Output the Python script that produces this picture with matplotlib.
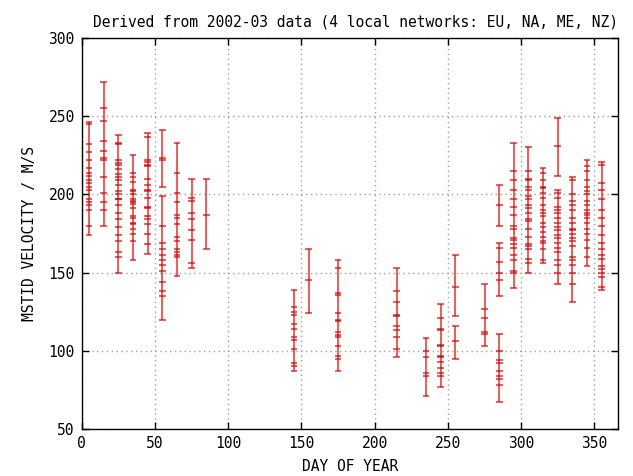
import matplotlib
matplotlib.use("Agg")
import matplotlib.pyplot as plt

plt.rcParams["font.family"] = ["DejaVu Sans Mono"]
plt.rcParams["font.size"] = 10.5

# ── data: 10-day bins, each bin = list of connected bar segments, each with tick values ──
days = [5, 15, 25, 35, 45, 55, 65, 75, 85,
        145, 155, 175, 215, 235, 245, 255,
        275, 285, 295, 305, 315, 325, 335, 345, 355]

ticks = [
    [[246, 245, 232, 227, 222, 217, 214, 212, 209, 207, 205, 203, 197, 195, 193, 190, 180, 174]],
    [[272, 255, 247, 234, 228, 223, 222, 211, 201, 195, 190, 180]],
    [[238, 233, 232, 222, 220, 219, 216, 213, 211, 209, 206, 202, 200, 197, 197, 193, 188, 184,
      179, 174, 170, 163, 160, 150]],
    [[225, 214, 211, 208, 203, 202, 200, 197, 196, 195, 194, 191, 186, 185, 182, 181, 178, 175,
      170, 158]],
    [[239, 237, 222, 221, 219, 218, 210, 206, 203, 202, 198, 192, 191, 186, 184, 181, 175, 168, 162]],
    [[241, 223, 222, 205],
     [199, 180, 169, 165, 161, 158, 155, 151, 144, 138, 135, 120]],
    [[233, 214, 201, 195, 187, 185, 181, 173, 170, 165, 163, 161, 160, 148]],
    [[210, 198, 196, 188, 184, 177, 171, 156, 153]],
    [[210, 187, 165]],
    [[139, 128, 125, 123, 117, 114, 109, 107, 101, 92, 90, 87]],
    [[165, 145, 124]],
    [[158, 153, 137, 136, 124, 120, 119, 112, 110, 109, 103, 97, 95, 87]],
    [[153, 138, 131, 123, 122, 116, 113, 109, 101, 96]],
    [[108, 100, 96, 86, 84, 71]],
    [[130, 121, 114, 113, 104, 103, 97, 96, 93, 89, 86, 84, 77]],
    [[161, 141, 122], [116, 106, 95]],
    [[143, 127, 121, 112, 111, 103]],
    [[206, 193, 180],
     [169, 166, 157, 150, 145, 135],
     [111, 100, 94, 92, 87, 84, 82, 78, 67]],
    [[233, 215, 209, 203, 197, 192, 187, 180, 178, 172, 171, 168, 166, 161, 158, 151, 150, 140]],
    [[230, 215, 210, 209, 205, 203, 199, 197, 193, 191, 188, 184, 183, 178, 173, 168, 167, 165,
      159, 156, 150]],
    [[217, 214, 209, 205, 204, 201, 198, 193, 190, 188, 186, 182, 179, 176, 173, 170, 169, 165,
      158, 156]],
    [[249, 231, 212],
     [203, 201, 198, 192, 190, 188, 185, 182, 179, 177, 174, 172, 169, 166, 163, 158, 155, 150, 143]],
    [[211, 209, 200, 196, 193, 190, 185, 182, 178, 177, 175, 172, 170, 167, 160, 158, 155, 150,
      143, 131]],
    [[222, 218, 215, 209, 205, 202, 200, 196, 193, 190, 188, 187, 185, 182, 178, 175, 171, 166,
      160, 154]],
    [[221, 219, 207, 203, 197, 190, 185, 180, 174, 169, 165, 161, 159, 154, 152, 150, 147, 141, 139]],
]

title = "Derived from 2002-03 data (4 local networks: EU, NA, ME, NZ)"
xlabel = "DAY OF YEAR"
ylabel = "MSTID VELOCITY / M/S"

# ── plot ──────────────────────────────────────────────────────────
fig = plt.figure(figsize=(6.33, 4.76), dpi=100)
ax = fig.add_axes([0.129, 0.0987, 0.847, 0.8215])

BAR_COLOR = "#cc0000"
half_w = 2.3  # tick half width in days

for day, segs in zip(days, ticks):
    for seg in segs:
        ax.vlines(day, min(seg), max(seg), color=BAR_COLOR, alpha=0.6, lw=1.5, zorder=3)
        ax.hlines(seg, day - half_w, day + half_w, color=BAR_COLOR, alpha=0.6, lw=1.5, zorder=3)

ax.set_xlim(0, 366)
ax.set_ylim(50, 300)
ax.set_xticks(range(0, 351, 50))
ax.set_yticks(range(50, 301, 50))

ax.grid(True, color="#a0a0a0", linestyle=(0, (1, 2.5)), linewidth=1.0)
ax.set_axisbelow(True)
ax.tick_params(direction="in", length=5, top=True, right=True, width=1, pad=5)
for sp in ax.spines.values():
    sp.set_linewidth(1.0)

ax.set_title(title, fontsize=10.5, pad=8, x=0.51)
ax.set_xlabel(xlabel, labelpad=6)
ax.set_ylabel(ylabel, labelpad=8)

fig.savefig("out.png", dpi=100)
